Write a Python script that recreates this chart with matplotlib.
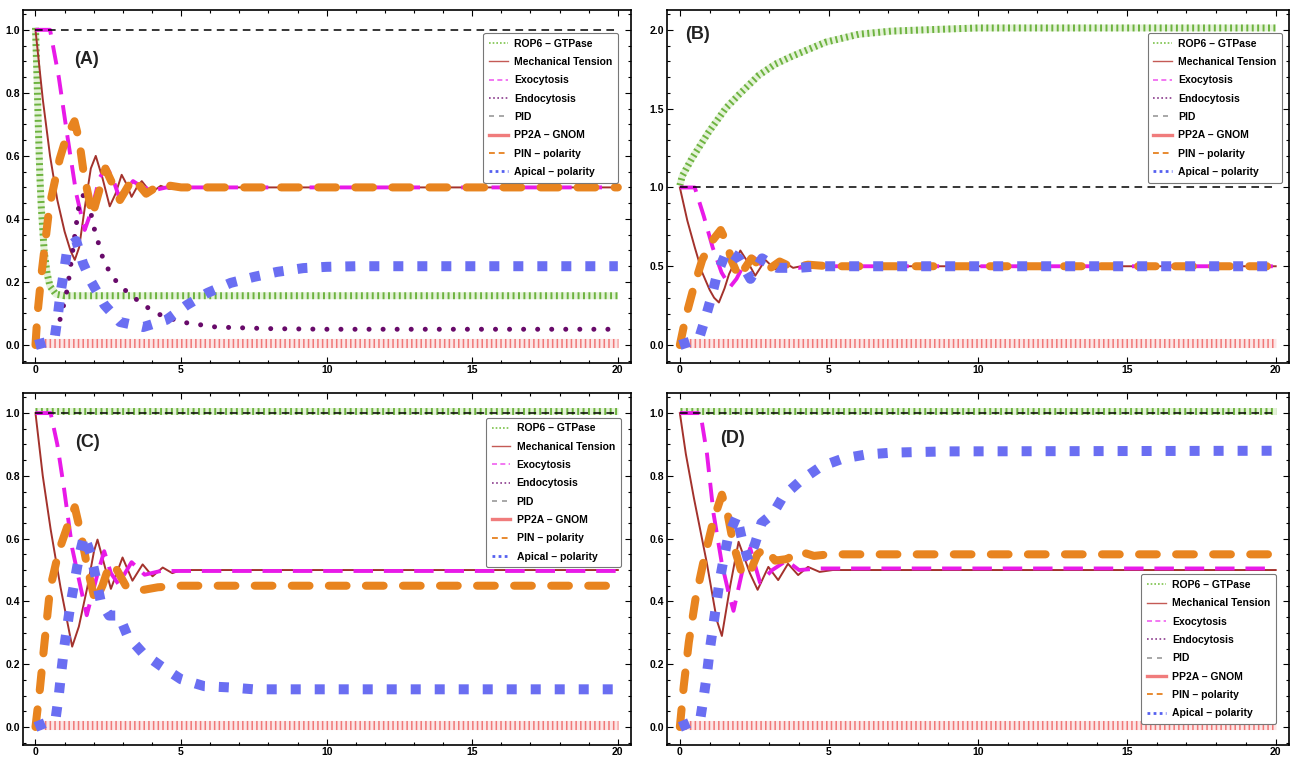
import matplotlib
matplotlib.use('Agg')
import matplotlib.pyplot as plt
import matplotlib.transforms as mtransforms
from matplotlib.lines import Line2D
from matplotlib.ticker import MultipleLocator, FormatStrFormatter

plt.rcParams['font.family'] = ['Liberation Sans', 'DejaVu Sans']
plt.rcParams['font.weight'] = 'bold'

names = ["ROP6 \u2013 GTPase", "Mechanical Tension", "Exocytosis", "Endocytosis",
         "PID", "PP2A \u2013 GNOM", "PIN \u2013 polarity", "Apical \u2013 polarity"]
panel_labels = ["(A)", "(B)", "(C)", "(D)"]

flat_t = [0, 20]
one_y = [1.0, 1.0]
zero_y = [0.0, 0.0]

# ---- panel A ----
a_rop6_t = [0, 0.05, 0.1, 0.15, 0.2, 0.3, 0.4, 0.5, 0.7, 1.0, 20]
a_rop6_y = [1.0, 0.85, 0.68, 0.53, 0.43, 0.29, 0.22, 0.18, 0.155, 0.15, 0.15]
a_mech_t = [0, 0.25, 0.5, 0.75, 1.0, 1.2, 1.35, 1.5, 1.7, 1.9, 2.07, 2.3, 2.55, 2.75, 2.96,
            3.13, 3.3, 3.48, 3.65, 3.82, 4.0, 4.3, 4.6, 5.0, 20]
a_mech_y = [1.0, 0.78, 0.60, 0.46, 0.36, 0.30, 0.27, 0.31, 0.44, 0.56, 0.60, 0.53, 0.44, 0.48, 0.54,
            0.51, 0.47, 0.50, 0.52, 0.50, 0.485, 0.505, 0.495, 0.5, 0.5]
a_exo_t = [0, 0.5, 0.8, 1.1, 1.4, 1.69, 1.9, 2.2, 2.44, 2.65, 2.85, 3.1, 3.35, 3.6, 4.0, 4.5, 20]
a_exo_y = [1.0, 1.0, 0.85, 0.66, 0.48, 0.365, 0.42, 0.53, 0.565, 0.53, 0.475, 0.49, 0.52, 0.505, 0.49, 0.5, 0.5]
a_endo_t = [0, 0.5, 0.75, 0.9, 1.1, 1.34, 1.5, 1.7, 1.85, 2.03, 2.3, 2.6, 3.0, 3.7, 4.3, 5.0, 6.2, 8, 10, 20]
a_endo_y = [0, 0.0, 0.05, 0.1, 0.18, 0.34, 0.45, 0.485, 0.44, 0.365, 0.28, 0.22, 0.18, 0.127, 0.095,
            0.073, 0.057, 0.052, 0.05, 0.05]
a_pin_t = [0, 0.07, 0.2, 0.48, 0.83, 1.06, 1.34, 1.5, 1.65, 1.95, 2.4, 2.9, 3.35, 3.8, 4.3, 5.0, 20]
a_pin_y = [0, 0.10, 0.22, 0.44, 0.59, 0.66, 0.71, 0.65, 0.55, 0.41, 0.56, 0.46, 0.53, 0.48, 0.51, 0.5, 0.5]
a_api_t = [0, 0.65, 0.77, 0.86, 1.0, 1.1, 1.4, 1.63, 1.92, 2.37, 2.9, 3.7, 4.5, 5.2, 5.9, 6.7, 7.5,
           8.3, 9.2, 10.0, 11, 20]
a_api_y = [0, 0.016, 0.095, 0.165, 0.245, 0.31, 0.33, 0.26, 0.20, 0.127, 0.073, 0.057, 0.08, 0.127,
           0.165, 0.197, 0.216, 0.232, 0.244, 0.248, 0.25, 0.25]

# ---- panel B ----
b_rop6_t = [0, 0.08, 0.4, 0.97, 1.54, 2.0, 2.65, 3.2, 3.76, 4.9, 6.0, 7.1, 8.5, 10, 20]
b_rop6_y = [1.0, 1.06, 1.17, 1.34, 1.49, 1.58, 1.70, 1.77, 1.82, 1.91, 1.96, 1.98, 1.99, 2.0, 2.0]
b_mech_t = [0, 0.25, 0.5, 0.75, 1.0, 1.15, 1.31, 1.5, 1.65, 2.03, 2.3, 2.53, 2.87, 3.2, 3.55, 3.8, 4.2, 5.0, 20]
b_mech_y = [1.0, 0.79, 0.62, 0.46, 0.35, 0.30, 0.27, 0.36, 0.45, 0.60, 0.52, 0.44, 0.54, 0.48, 0.52,
            0.49, 0.505, 0.5, 0.5]
b_exo_t = [0, 0.5, 0.8, 1.1, 1.4, 1.69, 1.9, 2.2, 2.44, 2.65, 2.85, 3.1, 3.35, 3.6, 4.0, 4.5, 20]
b_exo_y = [1.0, 1.0, 0.82, 0.62, 0.46, 0.37, 0.42, 0.53, 0.56, 0.53, 0.48, 0.49, 0.52, 0.505, 0.49, 0.5, 0.5]
b_pin_t = [0, 0.2, 0.47, 0.75, 1.08, 1.37, 1.55, 1.75, 1.98, 2.4, 2.9, 3.35, 3.8, 4.3, 5.0, 20]
b_pin_y = [0, 0.18, 0.37, 0.54, 0.66, 0.73, 0.66, 0.53, 0.43, 0.55, 0.47, 0.53, 0.49, 0.51, 0.5, 0.5]
b_api_t = [0, 0.64, 0.87, 1.08, 1.25, 1.58, 1.98, 2.37, 2.76, 3.27, 3.97, 4.7, 20]
b_api_y = [0, 0.04, 0.18, 0.32, 0.45, 0.60, 0.55, 0.42, 0.55, 0.49, 0.49, 0.5, 0.5]

# ---- panel C ----
c_mech_t = [0, 0.25, 0.52, 0.86, 1.26, 1.49, 1.78, 2.01, 2.13, 2.59, 2.99, 3.33, 3.68, 4.02, 4.37, 4.7, 5.0, 20]
c_mech_y = [1.0, 0.80, 0.63, 0.445, 0.256, 0.32, 0.445, 0.56, 0.597, 0.44, 0.54, 0.466, 0.518, 0.48,
            0.508, 0.49, 0.5, 0.5]
c_exo_t = [0, 0.52, 0.75, 0.98, 1.26, 1.55, 1.76, 2.13, 2.36, 2.59, 2.85, 3.3, 3.75, 4.3, 20]
c_exo_y = [1.0, 1.0, 0.9, 0.76, 0.57, 0.445, 0.356, 0.487, 0.56, 0.49, 0.455, 0.525, 0.485, 0.497, 0.497]
c_pin_t = [0, 0.15, 0.3, 0.5, 0.8, 1.1, 1.35, 1.55, 1.8, 2.05, 2.3, 2.55, 2.8, 3.1, 3.6, 4.2, 5, 20]
c_pin_y = [0, 0.12, 0.26, 0.44, 0.56, 0.64, 0.70, 0.62, 0.50, 0.40, 0.45, 0.52, 0.50, 0.45, 0.435,
           0.445, 0.45, 0.45]
c_api_t = [0, 0.69, 0.8, 0.88, 0.98, 1.09, 1.2, 1.49, 1.67, 1.9, 2.07, 2.24, 2.53, 2.87, 3.16, 3.68,
           4.31, 5.0, 5.8, 6.67, 7.5, 8.4, 20]
c_api_y = [0, 0.026, 0.1, 0.17, 0.25, 0.32, 0.39, 0.54, 0.61, 0.55, 0.476, 0.40, 0.355, 0.355, 0.29,
           0.236, 0.194, 0.152, 0.13, 0.126, 0.12, 0.12, 0.12]

# ---- panel D ----
d_mech_t = [0, 0.2, 0.47, 0.91, 1.24, 1.41, 1.69, 1.97, 2.35, 2.61, 2.97, 3.3, 3.63, 3.97, 4.3, 4.69, 5.13, 20]
d_mech_y = [1.0, 0.87, 0.73, 0.52, 0.34, 0.29, 0.45, 0.59, 0.49, 0.437, 0.51, 0.468, 0.52, 0.484,
            0.51, 0.494, 0.5, 0.5]
d_exo_t = [0, 0.69, 0.91, 1.13, 1.41, 1.63, 1.8, 2.08, 2.36, 2.69, 3.1, 3.58, 4.0, 4.7, 20]
d_exo_y = [1.0, 1.0, 0.87, 0.68, 0.52, 0.43, 0.37, 0.49, 0.57, 0.46, 0.5, 0.53, 0.5, 0.505, 0.505]
d_pin_t = [0, 0.13, 0.3, 0.52, 0.8, 1.13, 1.41, 1.6, 1.8, 2.05, 2.3, 2.6, 2.85, 3.2, 3.6, 4.0, 4.5, 5, 20]
d_pin_y = [0, 0.13, 0.27, 0.405, 0.53, 0.66, 0.74, 0.68, 0.58, 0.50, 0.48, 0.55, 0.57, 0.53, 0.535,
           0.56, 0.545, 0.55, 0.55]
d_api_t = [0, 0.69, 0.8, 0.91, 1.0, 1.11, 1.22, 1.33, 1.47, 1.63, 1.91, 2.08, 2.3, 2.52, 2.74, 3.13,
           3.47, 4.08, 4.74, 5.47, 6.24, 7.13, 8.0, 9.0, 20]
d_api_y = [0, 0.028, 0.096, 0.17, 0.243, 0.316, 0.39, 0.463, 0.536, 0.61, 0.672, 0.60, 0.53, 0.583,
           0.65, 0.68, 0.735, 0.787, 0.83, 0.855, 0.868, 0.874, 0.876, 0.878, 0.88]

panels = [
    [(a_rop6_t, a_rop6_y), (a_mech_t, a_mech_y), (a_exo_t, a_exo_y), (a_endo_t, a_endo_y),
     (flat_t, one_y), (flat_t, zero_y), (a_pin_t, a_pin_y), (a_api_t, a_api_y)],
    [(b_rop6_t, b_rop6_y), (b_mech_t, b_mech_y), (b_exo_t, b_exo_y), (flat_t, zero_y),
     (flat_t, one_y), (flat_t, zero_y), (b_pin_t, b_pin_y), (b_api_t, b_api_y)],
    [(flat_t, one_y), (c_mech_t, c_mech_y), (c_exo_t, c_exo_y), (flat_t, zero_y),
     (flat_t, one_y), (flat_t, zero_y), (c_pin_t, c_pin_y), (c_api_t, c_api_y)],
    [(flat_t, one_y), (d_mech_t, d_mech_y), (d_exo_t, d_exo_y), (flat_t, zero_y),
     (flat_t, one_y), (flat_t, zero_y), (d_pin_t, d_pin_y), (d_api_t, d_api_y)],
]

fig = plt.figure(figsize=(12.9, 7.6), dpi=100)
rects = [[0.0178, 0.5224, 0.4713, 0.4645], [0.5171, 0.5224, 0.4822, 0.4645],
         [0.0178, 0.0197, 0.4713, 0.4632], [0.5171, 0.0197, 0.4822, 0.4632]]
ylims = [(-0.057, 1.063), (-0.114, 2.127), (-0.0575, 1.064), (-0.0575, 1.064)]
label_pos = [(1.75, 0.905), (0.6, 1.97), (1.8, 0.907), (1.75, 0.918)]
legend_anchor = [(0.979, 0.935), (0.989, 0.935), (0.983, 0.930), (0.979, 0.485)]


def draw(ax, series):
    lifted = mtransforms.offset_copy(ax.transData, fig=fig, x=0, y=2, units='dots')
    (t0, y0), (t1, y1), (t2, y2), (t3, y3), (t4, y4), (t5, y5), (t6, y6), (t7, y7) = series
    # ROP6: pale band with dark ticks
    ax.plot(t0, y0, color='#e4f2d8', lw=5, solid_capstyle='butt', transform=lifted)
    ax.plot(t0, y0, color='#6db33f', lw=5, dashes=(0.28, 0.5), dash_capstyle='butt', transform=lifted)
    ax.plot(t1, y1, color='#a3322c', lw=1.4)
    ax.plot(t2, y2, color='#e81ae8', lw=2.8, dashes=(5, 2.8), dash_capstyle='butt')
    ax.plot(t3, y3, color='#680a6a', lw=3.6, dashes=(0.01, 2.8), dash_capstyle='round')
    ax.plot(t4, y4, color='black', lw=1.1, dashes=(5, 3.5))
    ax.plot(t5, y5, color='#fce6e6', lw=6.5, solid_capstyle='butt', transform=lifted)
    ax.plot(t5, y5, color='#f07878', lw=6.5, dashes=(0.17, 0.35), dash_capstyle='butt', transform=lifted)
    ax.plot(t6, y6, color='#e8841f', lw=5.8, dashes=(2.2, 2.4), dash_capstyle='round')
    ax.plot(t7, y7, color='#6a6ef2', lw=7.2, dashes=(1, 1.4), dash_capstyle='butt')


handles = [
    Line2D([], [], color='#7cc24a', lw=1.2, dashes=(1, 1.2)),
    Line2D([], [], color='#c45a55', lw=1.0),
    Line2D([], [], color='#f060f0', lw=1.2, dashes=(3, 2)),
    Line2D([], [], color='#8a3a8c', lw=1.2, dashes=(1, 1.5)),
    Line2D([], [], color='#9a9a9a', lw=1.2, dashes=(3, 3)),
    Line2D([], [], color='#f07c7c', lw=2.4),
    Line2D([], [], color='#e88a30', lw=1.4, dashes=(3, 2)),
    Line2D([], [], color='#5560f0', lw=2.0, dashes=(1, 1.2)),
]

for i, series in enumerate(panels):
    ax = fig.add_axes(rects[i])
    draw(ax, series)
    ax.set_xlim(-0.43, 20.45)
    ax.set_ylim(*ylims[i])
    ax.xaxis.set_major_locator(MultipleLocator(5))
    ax.xaxis.set_minor_locator(MultipleLocator(1))
    if i == 1:
        ax.yaxis.set_major_locator(MultipleLocator(0.5))
        ax.yaxis.set_minor_locator(MultipleLocator(0.1))
    else:
        ax.yaxis.set_major_locator(MultipleLocator(0.2))
        ax.yaxis.set_minor_locator(MultipleLocator(0.05))
    ax.yaxis.set_major_formatter(FormatStrFormatter('%.1f'))
    ax.tick_params(which='both', direction='in', top=True, right=True, width=0.8, labelsize=7.5, pad=2)
    ax.tick_params(axis='x', pad=1.5)
    ax.tick_params(which='major', length=4)
    ax.tick_params(which='minor', length=2)
    for s in ax.spines.values():
        s.set_linewidth(1.2)
    ax.text(label_pos[i][0], label_pos[i][1], panel_labels[i], fontsize=13, fontweight='bold',
            color='#222222', ha='center', va='center')
    leg = ax.legend(handles, names, loc='upper right', bbox_to_anchor=legend_anchor[i], borderaxespad=0,
                    prop={'size': 7.5, 'weight': 'bold'}, handlelength=1.8, labelspacing=0.8,
                    borderpad=0.55, handletextpad=0.6, fancybox=True, framealpha=1)
    leg.get_frame().set_edgecolor('#777777')
    leg.get_frame().set_linewidth(0.8)

fig.savefig('out.png', dpi=100)
